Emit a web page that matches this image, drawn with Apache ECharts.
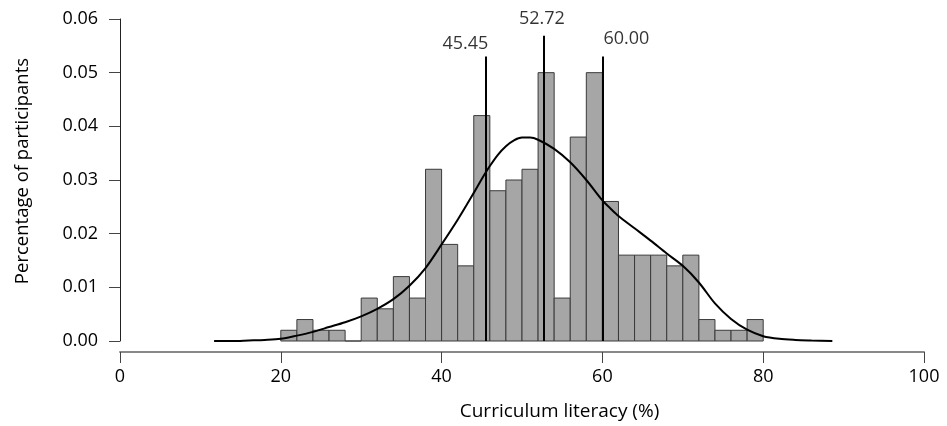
<!DOCTYPE html>
<html>
<head>
<meta charset="utf-8">
<script src="https://cdn.jsdelivr.net/npm/echarts@6/dist/echarts.min.js"></script>
<style>
html,body{margin:0;padding:0;background:#fff;}
#main{width:947px;height:426px;}
</style>
</head>
<body>
<div id="main"></div>
<script>
// Histogram bins (bin start, %) with width 2
var binStarts = [20,22,24,26,28,30,32,34,36,38,40,42,44,46,48,50,52,54,56,58,60,62,64,66,68,70,72,74,76,78];
var binValues = [0.002,0.004,0.002,0.002,0,0.008,0.006,0.012,0.008,0.032,0.018,0.014,0.042,0.028,0.030,0.032,0.050,0.008,0.038,0.050,0.026,0.016,0.016,0.016,0.014,0.016,0.004,0.002,0.002,0.004];
var binWidth = 2;

// Density curve
var curveX = [11.7,14,16,18,20,22,24,26,28,30,32,34,36,38,40,42,44,45,46,47,48,49,50,51,52,54,56,58,60,61,62,64,66,68,70,72,74,76,78,80,82,84,86,88.6];
var curveY = [0,0,0.0001,0.0002,0.0004,0.0010,0.0017,0.0026,0.0035,0.0046,0.0060,0.0078,0.0103,0.0136,0.0180,0.0226,0.0276,0.0302,0.0326,0.0347,0.0363,0.0374,0.0379,0.0379,0.0375,0.0358,0.0333,0.0300,0.0262,0.0247,0.0233,0.0210,0.0187,0.0163,0.0140,0.0109,0.0070,0.0041,0.0021,0.0009,0.0004,0.0002,0.0001,0];

// Reference lines
var refX = [45.45, 52.72, 60.00];
var refTop = [0.053, 0.0569, 0.053];
var refLabels = ['45.45', '52.72', '60.00'];

// Axis ticks
var xTicks = [0,20,40,60,80,100];
var yTicks = [0,0.01,0.02,0.03,0.04,0.05,0.06];

var FONT = 'Open Sans';
var chart = echarts.init(document.getElementById('main'));

var histData = binStarts.map(function(s,i){ return [s, s+binWidth, binValues[i]]; });
var curveData = curveX.map(function(x,i){ return [x, curveY[i]]; });
var labelOffsets = [[-20,1],[-2,-3],[24,-4]];
var labelData = refX.map(function(x,i){
  return { value:[x, refTop[i]], label:{ offset: labelOffsets[i] } };
});

chart.setOption({
  animation:false,
  backgroundColor:'#fff',
  textStyle:{fontFamily:FONT},
  grid:{left:120,right:23,top:19,bottom:85},
  xAxis:{
    type:'value', min:xTicks[0], max:xTicks[xTicks.length-1], interval:20,
    offset:11,
    name:'Curriculum literacy (%)', nameLocation:'middle', nameGap:50,
    nameTextStyle:{fontSize:19,color:'#000',fontFamily:FONT,padding:[0,0,0,75]},
    axisLine:{show:true,onZero:false,lineStyle:{color:'#888',width:2}},
    axisTick:{show:true,length:11,lineStyle:{color:'#444',width:1}},
    axisLabel:{fontSize:18,color:'#000',fontFamily:FONT,margin:16},
    splitLine:{show:false}
  },
  yAxis:{
    type:'value', min:yTicks[0], max:yTicks[yTicks.length-1], interval:0.01,
    name:'Percentage of participants', nameLocation:'middle', nameGap:88,
    nameTextStyle:{fontSize:18.5,color:'#000',fontFamily:FONT,padding:[0,0,0,18]},
    axisLine:{show:true,lineStyle:{color:'#222',width:1}},
    axisTick:{show:true,length:11,lineStyle:{color:'#444',width:1}},
    axisLabel:{fontSize:18,color:'#000',fontFamily:FONT,margin:22,formatter:function(v){return v.toFixed(2);}},
    splitLine:{show:false}
  },
  series:[
    {
      type:'custom',
      data:histData,
      renderItem:function(params,api){
        var p0 = api.coord([api.value(0), api.value(2)]);
        var p1 = api.coord([api.value(1), 0]);
        return {
          type:'rect',
          shape:{x:p0[0], y:p0[1], width:p1[0]-p0[0], height:p1[1]-p0[1]},
          style:{fill:'#a6a6a6', stroke:'#3a3a3a', lineWidth:1}
        };
      },
      encode:{x:[0,1], y:2},
      z:2
    },
    {
      type:'line',
      data:curveData,
      smooth:0.3,
      showSymbol:false,
      symbol:'none',
      clip:false,
      lineStyle:{color:'#000',width:2},
      z:4,
      markLine:{
        silent:true,
        symbol:'none',
        label:{show:false},
        lineStyle:{color:'#000',width:2,type:'solid'},
        data:refX.map(function(x,i){ return [{coord:[x,0]},{coord:[x,refTop[i]]}]; })
      }
    },
    {
      type:'scatter',
      data:labelData,
      symbolSize:0,
      silent:true,
      label:{
        show:true, position:'top', distance:5,
        fontSize:18, color:'#000', fontFamily:FONT,
        formatter:function(p){ return refLabels[p.dataIndex]; }
      },
      z:5
    }
  ]
});
</script>
</body>
</html>
